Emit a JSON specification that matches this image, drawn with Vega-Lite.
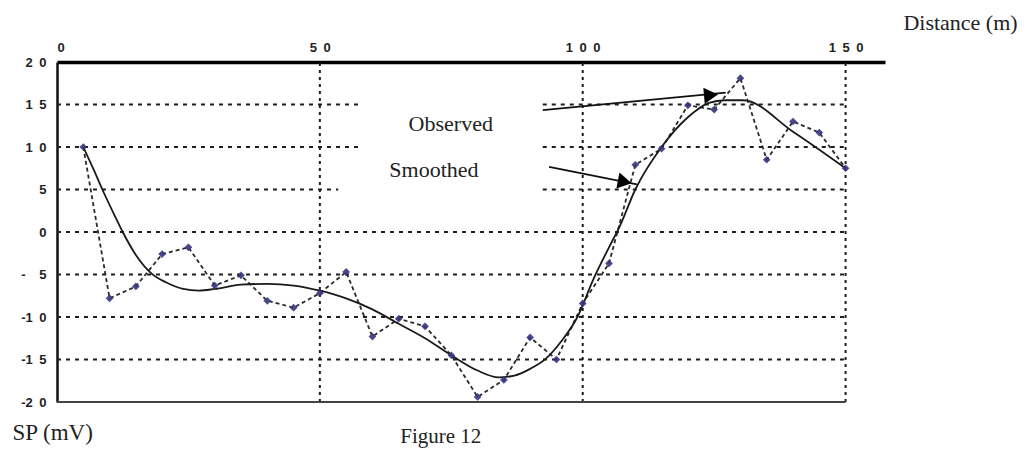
{
  "$schema": "https://vega.github.io/schema/vega-lite/v6.json",
  "autosize": "none",
  "width": 828,
  "height": 340,
  "padding": {"left": 57, "top": 62, "right": 144, "bottom": 47},
  "background": "white",
  "config": {"view": {"stroke": null}},
  "datasets": {
    "observed": [
      {"distance": 5, "sp": 10},
      {"distance": 10, "sp": -7.8},
      {"distance": 15, "sp": -6.4},
      {"distance": 20, "sp": -2.6},
      {"distance": 25, "sp": -1.8},
      {"distance": 30, "sp": -6.3},
      {"distance": 35, "sp": -5.1},
      {"distance": 40, "sp": -8.1},
      {"distance": 45, "sp": -8.9},
      {"distance": 50, "sp": -7.2},
      {"distance": 55, "sp": -4.7},
      {"distance": 60, "sp": -12.3},
      {"distance": 65, "sp": -10.2},
      {"distance": 70, "sp": -11.1},
      {"distance": 75, "sp": -14.5},
      {"distance": 80, "sp": -19.4},
      {"distance": 85, "sp": -17.4},
      {"distance": 90, "sp": -12.4},
      {"distance": 95, "sp": -15.0},
      {"distance": 100, "sp": -8.4},
      {"distance": 105, "sp": -3.7},
      {"distance": 110, "sp": 7.9},
      {"distance": 115, "sp": 9.8},
      {"distance": 120, "sp": 14.9},
      {"distance": 125, "sp": 14.4},
      {"distance": 130, "sp": 18.1},
      {"distance": 135, "sp": 8.5},
      {"distance": 140, "sp": 13.0},
      {"distance": 145, "sp": 11.7},
      {"distance": 150, "sp": 7.5}
    ],
    "smoothed": [
      {"distance": 5, "sp": 10},
      {"distance": 7, "sp": 7.3},
      {"distance": 9, "sp": 4.5},
      {"distance": 11, "sp": 1.9},
      {"distance": 12.5, "sp": 0},
      {"distance": 15, "sp": -2.7},
      {"distance": 18, "sp": -4.9},
      {"distance": 21, "sp": -6.0},
      {"distance": 24, "sp": -6.7},
      {"distance": 27, "sp": -6.9},
      {"distance": 30, "sp": -6.7},
      {"distance": 35, "sp": -6.2},
      {"distance": 40, "sp": -6.1},
      {"distance": 45, "sp": -6.3},
      {"distance": 50, "sp": -6.9},
      {"distance": 55, "sp": -7.8},
      {"distance": 60, "sp": -9.1},
      {"distance": 65, "sp": -10.8},
      {"distance": 70, "sp": -12.5},
      {"distance": 75, "sp": -14.5},
      {"distance": 80, "sp": -16.3},
      {"distance": 84, "sp": -17.1},
      {"distance": 87, "sp": -16.9},
      {"distance": 90, "sp": -16.1},
      {"distance": 93, "sp": -14.9},
      {"distance": 96, "sp": -12.8},
      {"distance": 99, "sp": -10.0},
      {"distance": 102, "sp": -5.6},
      {"distance": 105, "sp": -1.8},
      {"distance": 107, "sp": 0.6},
      {"distance": 110, "sp": 5.0},
      {"distance": 115, "sp": 10.0},
      {"distance": 120, "sp": 13.5},
      {"distance": 124, "sp": 15.2},
      {"distance": 127, "sp": 15.5},
      {"distance": 130.5, "sp": 15.5},
      {"distance": 140, "sp": 11.8},
      {"distance": 150, "sp": 7.5}
    ],
    "hgrid": [
      {"y": 15, "x": 0, "x2": 57.3},
      {"y": 15, "x": 92.4, "x2": 150},
      {"y": 10, "x": 0, "x2": 57.3},
      {"y": 10, "x": 92.4, "x2": 150},
      {"y": 5, "x": 0, "x2": 53.5},
      {"y": 5, "x": 92.4, "x2": 150},
      {"y": 0, "x": 0, "x2": 150},
      {"y": -5, "x": 0, "x2": 150},
      {"y": -10, "x": 0, "x2": 150},
      {"y": -15, "x": 0, "x2": 150}
    ],
    "vgrid": [
      {"x": 50},
      {"x": 100},
      {"x": 150}
    ],
    "arrows": [
      {"x": 92.4, "y": 14.35, "x2": 127.2, "y2": 16.4},
      {"x": 93.6, "y": 7.65, "x2": 110.3, "y2": 5.6}
    ],
    "heads": [
      {"x": 124.4, "y": 16.1, "angle": -5},
      {"x": 108.0, "y": 5.9, "angle": 11}
    ],
    "labels": [
      {"text": "Observed", "x": 74.9, "y": 12.7},
      {"text": "Smoothed", "x": 71.7, "y": 7.3}
    ]
  },
  "layer": [
    {
      "data": {"name": "hgrid"},
      "mark": {"type": "rule", "color": "#1e1e1e", "strokeWidth": 2, "strokeDash": [4, 5]},
      "encoding": {
        "x": {"field": "x", "type": "quantitative", "scale": {"domain": [0, 157.5], "nice": false, "zero": false},
          "axis": {"orient": "top", "values": [0, 50, 100, 150], "grid": false, "ticks": false,
            "domainColor": "#000", "domainWidth": 3.5, "labelPadding": 8,
            "labelFont": "Liberation Sans", "labelFontWeight": "bold", "labelFontSize": 13, "labelColor": "#222",
            "labelExpr": "datum.value == 0 ? '0' : datum.value == 50 ? '5\u20020' : datum.value == 100 ? '1\u20020\u20020' : '1\u20025\u20020'",
            "title": "Distance (m)", "titleFont": "Liberation Serif", "titleFontWeight": "normal", "titleFontSize": 22,
            "titleColor": "#222", "titleX": 903, "titleY": -40, "titleAlign": "center", "titleBaseline": "middle", "titleAnchor": null}},
        "x2": {"field": "x2"},
        "y": {"field": "y", "type": "quantitative", "scale": {"domain": [-20, 20], "nice": false, "zero": false},
          "axis": {"orient": "left", "values": [20, 15, 10, 5, 0, -5, -10, -15, -20], "grid": false, "ticks": false,
            "domainColor": "#111", "domainWidth": 2.5, "labelPadding": 11,
            "labelFont": "Liberation Sans", "labelFontWeight": "bold", "labelFontSize": 13, "labelColor": "#222",
            "labelExpr": "datum.value < 0 ? ('-' + (abs(datum.value) >= 10 ? floor(abs(datum.value) / 10) : '\u2007') + '\u2002' + (abs(datum.value) % 10)) : (datum.value >= 10 ? (floor(datum.value / 10) + '\u2002' + (datum.value % 10)) : ('' + datum.value))",
            "title": "SP (mV)", "titleFont": "Liberation Serif", "titleFontWeight": "normal", "titleFontSize": 23,
            "titleColor": "#222", "titleAngle": 0, "titleX": -45, "titleY": 370, "titleAlign": "left", "titleBaseline": "middle", "titleAnchor": null}}
      }
    },
    {
      "data": {"name": "vgrid"},
      "mark": {"type": "rule", "color": "#1e1e1e", "strokeWidth": 2, "strokeDash": [3, 4]},
      "encoding": {
        "x": {"field": "x", "type": "quantitative"},
        "y": {"datum": -20, "type": "quantitative"},
        "y2": {"datum": 20}
      }
    },
    {
      "data": {"values": [{"a": 1}]},
      "mark": {"type": "rule", "color": "#444", "strokeWidth": 2.2},
      "encoding": {
        "x": {"datum": 0, "type": "quantitative"},
        "x2": {"datum": 150},
        "y": {"datum": -20, "type": "quantitative"}
      }
    },
    {
      "data": {"name": "observed"},
      "mark": {"type": "line", "color": "#2a2a2a", "strokeWidth": 1.8, "strokeDash": [4, 3]},
      "encoding": {
        "x": {"field": "distance", "type": "quantitative"},
        "y": {"field": "sp", "type": "quantitative"}
      }
    },
    {
      "data": {"name": "smoothed"},
      "mark": {"type": "line", "color": "#1a1a1a", "strokeWidth": 1.8, "interpolate": "monotone"},
      "encoding": {
        "x": {"field": "distance", "type": "quantitative"},
        "y": {"field": "sp", "type": "quantitative"}
      }
    },
    {
      "data": {"name": "observed"},
      "mark": {"type": "point", "shape": "diamond", "filled": true, "color": "#35357f", "size": 60, "opacity": 0.9},
      "encoding": {
        "x": {"field": "distance", "type": "quantitative"},
        "y": {"field": "sp", "type": "quantitative"}
      }
    },
    {
      "data": {"name": "arrows"},
      "mark": {"type": "rule", "color": "#111", "strokeWidth": 1.8},
      "encoding": {
        "x": {"field": "x", "type": "quantitative"},
        "y": {"field": "y", "type": "quantitative"},
        "x2": {"field": "x2"},
        "y2": {"field": "y2"}
      }
    },
    {
      "data": {"name": "heads"},
      "mark": {"type": "point", "shape": "triangle-right", "filled": true, "color": "#000", "size": 260, "opacity": 1},
      "encoding": {
        "x": {"field": "x", "type": "quantitative"},
        "y": {"field": "y", "type": "quantitative"},
        "angle": {"field": "angle", "type": "quantitative", "scale": null}
      }
    },
    {
      "data": {"name": "labels"},
      "mark": {"type": "text", "font": "Liberation Serif", "fontSize": 22, "color": "#222", "align": "center", "baseline": "middle"},
      "encoding": {
        "x": {"field": "x", "type": "quantitative"},
        "y": {"field": "y", "type": "quantitative"},
        "text": {"field": "text"}
      }
    },
    {
      "data": {"values": [{"text": "Figure 12"}]},
      "mark": {"type": "text", "font": "Liberation Serif", "fontSize": 21, "color": "#222", "align": "center", "baseline": "middle"},
      "encoding": {
        "x": {"datum": 73.0, "type": "quantitative"},
        "y": {"datum": -24.1, "type": "quantitative"},
        "text": {"field": "text"}
      }
    }
  ]
}
